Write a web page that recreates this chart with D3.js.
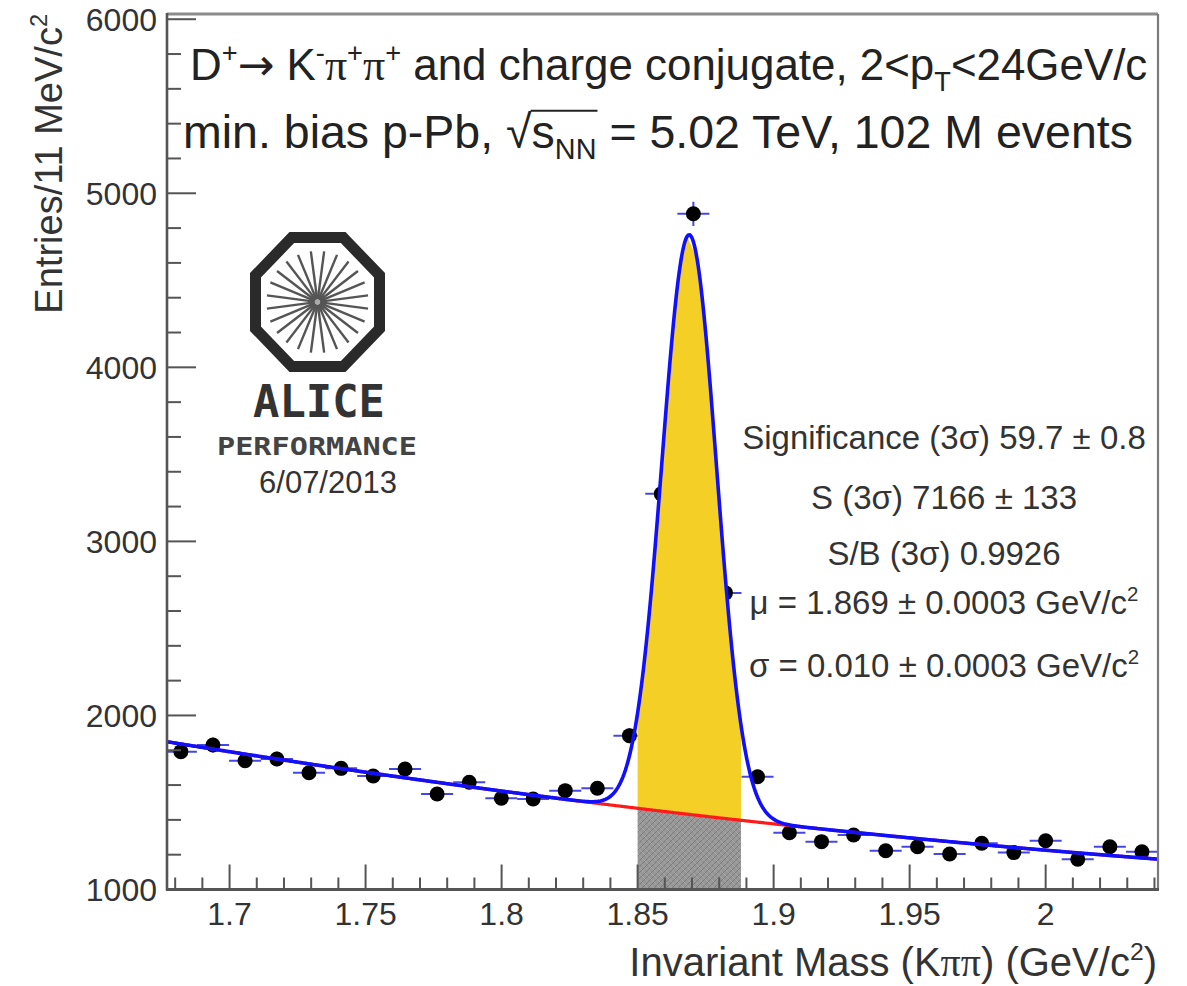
<!DOCTYPE html>
<html>
<head>
<meta charset="utf-8">
<script src="https://cdn.jsdelivr.net/npm/d3@7"></script>
<style>
  body { margin: 0; background: #fff; }
  svg { display: block; }
  text { font-family: "Liberation Sans", Arial, Helvetica, sans-serif; }
</style>
</head>
<body>
<svg id="chart" width="1187" height="986"></svg>
<script>
// ---- Histogram: invariant-mass bin centres (GeV/c^2) and entries ----
const massBins = [
  1.6821, 1.6939, 1.7057, 1.7174, 1.7292, 1.7410, 1.7528, 1.7645, 1.7763, 1.7881,
  1.7999, 1.8116, 1.8234, 1.8352, 1.8470, 1.8587, 1.8705, 1.8823, 1.8941, 1.9058,
  1.9176, 1.9294, 1.9412, 1.9529, 1.9647, 1.9765, 1.9883, 2.0000, 2.0118, 2.0236,
  2.0354
];
const entries = [
  1792, 1830, 1740, 1750, 1671, 1696, 1652, 1692, 1549, 1616,
  1524, 1520, 1568, 1582, 1884, 3273, 4882, 2704, 1648, 1326,
  1275, 1313, 1223, 1246, 1204, 1266, 1212, 1280, 1174, 1246,
  1217
];
const binWidth = 0.011776;

// ---- Axes ----
const xDomain = [1.677, 2.0413];
const yDomain = [1000, 6030];
const xTicks = [1.7, 1.75, 1.8, 1.85, 1.9, 1.95, 2.0];
const xTickLabels = ["1.7", "1.75", "1.8", "1.85", "1.9", "1.95", "2"];
const yTicks = [1000, 2000, 3000, 4000, 5000, 6000];
const yTickLabels = ["1000", "2000", "3000", "4000", "5000", "6000"];

// ---- Fit: Gaussian signal on a smooth background ----
const fitMean = 1.869;
const fitSigma = 0.010;
const fitAmplitude = 3330;
const bkgOrigin = 1.677;
const bkgCoeffs = [1849, -2534, 1872];
const signalRange = [1.850, 1.888];

// ---- Text ----
const statLines = [
  "Significance (3σ) 59.7 ± 0.8",
  "S (3σ) 7166 ± 133",
  "S/B (3σ) 0.9926",
  "μ = 1.869 ± 0.0003 GeV/c²",
  "σ = 0.010 ± 0.0003 GeV/c²"
];

const plot = { left: 167, right: 1158, top: 14, bottom: 889.5 };

const svg = d3.select("#chart");
const x = d3.scaleLinear().domain(xDomain).range([plot.left, plot.right]);
const y = d3.scaleLinear().domain(yDomain).range([plot.bottom, plot.top]);

const bkg = m => {
  const t = m - bkgOrigin;
  return bkgCoeffs[0] + bkgCoeffs[1] * t + bkgCoeffs[2] * t * t;
};
const sig = m => fitAmplitude * Math.exp(-0.5 * Math.pow((m - fitMean) / fitSigma, 2));
const total = m => bkg(m) + sig(m);

// hatch pattern for the background area under the peak
const defs = svg.append("defs");
const pat = defs.append("pattern").attr("id", "hatch")
  .attr("patternUnits", "userSpaceOnUse").attr("width", 6).attr("height", 6);
pat.append("rect").attr("width", 6).attr("height", 6).attr("fill", "#979797");
pat.append("path").attr("d", "M0,6 L6,0 M-2,2 L2,-2 M4,8 L8,4")
  .attr("stroke", "#7b7b7b").attr("stroke-width", 1);
pat.append("path").attr("d", "M0,0 L6,6 M-2,4 L2,8 M4,-2 L8,2")
  .attr("stroke", "#a9a9a9").attr("stroke-width", 0.8);
defs.append("clipPath").attr("id", "plotClip").append("rect")
  .attr("x", plot.left).attr("y", plot.top)
  .attr("width", plot.right - plot.left).attr("height", plot.bottom - plot.top);

// ---- Data points with error bars ----
const data = massBins.map((m, i) => ({ m, n: entries[i], e: Math.sqrt(entries[i]) }));
const pts = svg.append("g").attr("clip-path", "url(#plotClip)");
pts.selectAll("line.ex").data(data).join("line").attr("class", "ex")
  .attr("x1", d => x(d.m - binWidth / 2)).attr("x2", d => x(d.m + binWidth / 2))
  .attr("y1", d => y(d.n)).attr("y2", d => y(d.n))
  .attr("stroke", "#4646e6").attr("stroke-width", 2);
pts.selectAll("line.ey").data(data).join("line").attr("class", "ey")
  .attr("x1", d => x(d.m)).attr("x2", d => x(d.m))
  .attr("y1", d => y(d.n - d.e)).attr("y2", d => y(d.n + d.e))
  .attr("stroke", "#4646e6").attr("stroke-width", 2);
pts.selectAll("circle").data(data).join("circle")
  .attr("cx", d => x(d.m)).attr("cy", d => y(d.n)).attr("r", 7.5)
  .attr("fill", "#000");

// ---- Signal area (yellow) and background area (hatched) ----
const coarse = [];
for (let m = signalRange[0]; m < signalRange[1]; m += 0.003645) coarse.push(m);
coarse.push(signalRange[1]);
const fine = d3.range(0, 201).map(k => signalRange[0] + (signalRange[1] - signalRange[0]) * k / 200);

svg.append("path").datum(coarse)
  .attr("d", d3.area().x(d => x(d)).y0(d => y(bkg(d))).y1(d => y(total(d))))
  .attr("fill", "#f4cf26");
svg.append("path").datum(fine)
  .attr("d", d3.area().x(d => x(d)).y0(y(yDomain[0])).y1(d => y(bkg(d))))
  .attr("fill", "url(#hatch)");

// ---- Fit curves ----
const grid = d3.range(0, 801).map(k => xDomain[0] + (xDomain[1] - xDomain[0]) * k / 800);
const curves = svg.append("g").attr("clip-path", "url(#plotClip)");
curves.append("path").datum(grid)
  .attr("d", d3.line().x(d => x(d)).y(d => y(bkg(d))))
  .attr("fill", "none").attr("stroke", "#ff1a1a").attr("stroke-width", 3.2);
curves.append("path").datum(grid)
  .attr("d", d3.line().x(d => x(d)).y(d => y(total(d))))
  .attr("fill", "none").attr("stroke", "#1010ff").attr("stroke-width", 3.6);

// ---- Frame and axes ----
const axisColor = "#555";
svg.append("line").attr("x1", plot.left).attr("x2", plot.right)
  .attr("y1", plot.top).attr("y2", plot.top).attr("stroke", "#8c8c8c").attr("stroke-width", 3);
svg.append("line").attr("x1", plot.right).attr("x2", plot.right)
  .attr("y1", plot.top).attr("y2", plot.bottom).attr("stroke", "#7a7a7a").attr("stroke-width", 2.2);

const gx = svg.append("g");
// minor + major x ticks pointing into the frame
const xMinor = d3.range(168, 205).map(k => k / 100);
gx.selectAll("line.mt").data(xMinor).join("line")
  .attr("x1", d => x(d)).attr("x2", d => x(d))
  .attr("y1", plot.bottom)
  .attr("y2", d => plot.bottom - (xTicks.some(t => Math.abs(t - d) < 1e-6) ? 25 : 12))
  .attr("stroke", axisColor).attr("stroke-width", 2);
gx.append("line").attr("x1", plot.left - 1).attr("x2", plot.right + 1)
  .attr("y1", plot.bottom).attr("y2", plot.bottom)
  .attr("stroke", axisColor).attr("stroke-width", 3);
gx.selectAll("text").data(xTicks).join("text")
  .attr("x", d => x(d)).attr("y", 925).attr("text-anchor", "middle")
  .attr("font-size", 32).attr("fill", "#333")
  .text((d, i) => xTickLabels[i]);

const gy = svg.append("g");
const yMinor = d3.range(1000, 6001, 200);
gy.selectAll("line.mt").data(yMinor).join("line")
  .attr("x1", plot.left).attr("x2", d => plot.left + (d % 1000 === 0 ? 29 : 14))
  .attr("y1", d => y(d)).attr("y2", d => y(d))
  .attr("stroke", axisColor).attr("stroke-width", 2);
gy.append("line").attr("x1", plot.left).attr("x2", plot.left)
  .attr("y1", plot.top - 1).attr("y2", plot.bottom + 1)
  .attr("stroke", axisColor).attr("stroke-width", 2.6);
gy.selectAll("text").data(yTicks).join("text")
  .attr("x", 157).attr("y", d => y(d)).attr("dy", "0.36em").attr("text-anchor", "end")
  .attr("font-size", 32).attr("fill", "#333")
  .text((d, i) => yTickLabels[i]);

// ---- Text helpers ----
function rich(parent, px, py, parts, size, opts = {}) {
  const t = parent.append("text").attr("x", px).attr("y", py)
    .attr("font-size", size).attr("fill", opts.fill || "#222")
    .attr("text-anchor", opts.anchor || "start");
  let shift = 0;
  parts.forEach(p => {
    const target = p.sup ? -size * 0.40 : p.sub ? size * 0.24 : 0;
    const ts = t.append("tspan").text(p.t).attr("dy", target - shift);
    if (p.sup || p.sub) ts.attr("font-size", size * 0.62);
    if (p.serif) ts.style("font-family", "'Liberation Serif', 'DejaVu Serif', serif");
    if (p.font) ts.style("font-family", p.font);
    shift = target;
  });
  return t;
}

// axis titles
rich(svg, 1157, 976, [
  { t: "Invariant Mass (K" }, { t: "ππ", serif: true }, { t: ") (GeV/c" }, { t: "2", sup: true }, { t: ")" }
], 40, { anchor: "end", fill: "#333" });

const yTitle = svg.append("g").attr("transform", `translate(62,${plot.top}) rotate(-90)`);
rich(yTitle, 0, 0, [{ t: "Entries/11 MeV/c" }, { t: "2", sup: true }], 38, { anchor: "end", fill: "#333" });

// header lines
rich(svg, 190, 80, [
  { t: "D" }, { t: "+", sup: true }, { t: "→", font: "'DejaVu Sans', sans-serif" }, { t: " K" }, { t: "-", sup: true },
  { t: "π", serif: true }, { t: "+", sup: true }, { t: "π", serif: true }, { t: "+", sup: true },
  { t: " and charge conjugate, 2<p" }, { t: "T", sub: true }, { t: "<24GeV/c" }
], 43.9);

const line2Size = 46.5;
const line2Parts = [
  { t: "min. bias p-Pb, " }, { t: "√" }, { t: "s" }, { t: "NN", sub: true },
  { t: " = 5.02 TeV, 102 M events" }
];
const line2 = rich(svg, 183, 148, line2Parts, line2Size);
{
  // overline of the square root spanning s_NN
  const node = line2.node();
  const iRoot = line2Parts[0].t.length;
  const iEnd = iRoot + 1 + 1 + 2 - 1;
  const x0 = node.getEndPositionOfChar(iRoot).x - 1;
  const x1 = node.getEndPositionOfChar(iEnd).x + 1;
  svg.append("line").attr("x1", x0).attr("x2", x1)
    .attr("y1", 148 - line2Size * 0.80).attr("y2", 148 - line2Size * 0.80)
    .attr("stroke", "#222").attr("stroke-width", 2);
}

// fit summary
const statY = [449, 509, 565, 614, 677];
statLines.forEach((s, i) => {
  const parts = [];
  const m = s.match(/^(.*)²$/);
  const body = m ? m[1] : s;
  parts.push({ t: body });
  if (m) parts.push({ t: "2", sup: true });
  rich(svg, 944, statY[i], parts, 33, { anchor: "middle", fill: "#333" });
});

// ---- ALICE Performance logo ----
const logo = svg.append("g");
const lcx = 317.5, lcy = 302, apX = 62, apY = 64.5;
const oct = d3.range(8).map(k => {
  const ang = -Math.PI / 2 + Math.PI / 8 + k * Math.PI / 4;
  const r = 1 / Math.cos(Math.PI / 8);
  return [lcx + apX * r * Math.cos(ang), lcy + apY * r * Math.sin(ang)];
});
logo.append("polygon").attr("points", oct.map(p => p.join(",")).join(" "))
  .attr("fill", "none").attr("stroke", "#2a2a2a").attr("stroke-width", 11)
  .attr("stroke-linejoin", "miter");
logo.append("circle").attr("cx", lcx).attr("cy", lcy).attr("r", 9).attr("fill", "#aaa");
d3.range(24).forEach(k => {
  const ang = k * Math.PI / 12 + Math.PI / 24;
  logo.append("line")
    .attr("x1", lcx + 3 * Math.cos(ang)).attr("y1", lcy + 3 * Math.sin(ang))
    .attr("x2", lcx + 51 * Math.cos(ang)).attr("y2", lcy + 51 * Math.sin(ang))
    .attr("stroke", "#555").attr("stroke-width", 2.4);
});
logo.append("text").attr("x", 253).attr("y", 417)
  .attr("textLength", 132).attr("lengthAdjust", "spacingAndGlyphs")
  .style("font-family", "'DejaVu Sans Mono', monospace").attr("font-size", 44)
  .attr("font-weight", "bold").attr("fill", "#333").text("ALICE");
logo.append("text").attr("x", 217).attr("y", 455)
  .attr("textLength", 200).attr("lengthAdjust", "spacingAndGlyphs")
  .style("font-family", "'DejaVu Sans Mono', monospace").attr("font-size", 25)
  .attr("font-weight", "bold").attr("fill", "#444").text("PERFORMANCE");
logo.append("text").attr("x", 328).attr("y", 493).attr("text-anchor", "middle")
  .attr("font-size", 31).attr("fill", "#333").text("6/07/2013");
</script>
</body>
</html>
